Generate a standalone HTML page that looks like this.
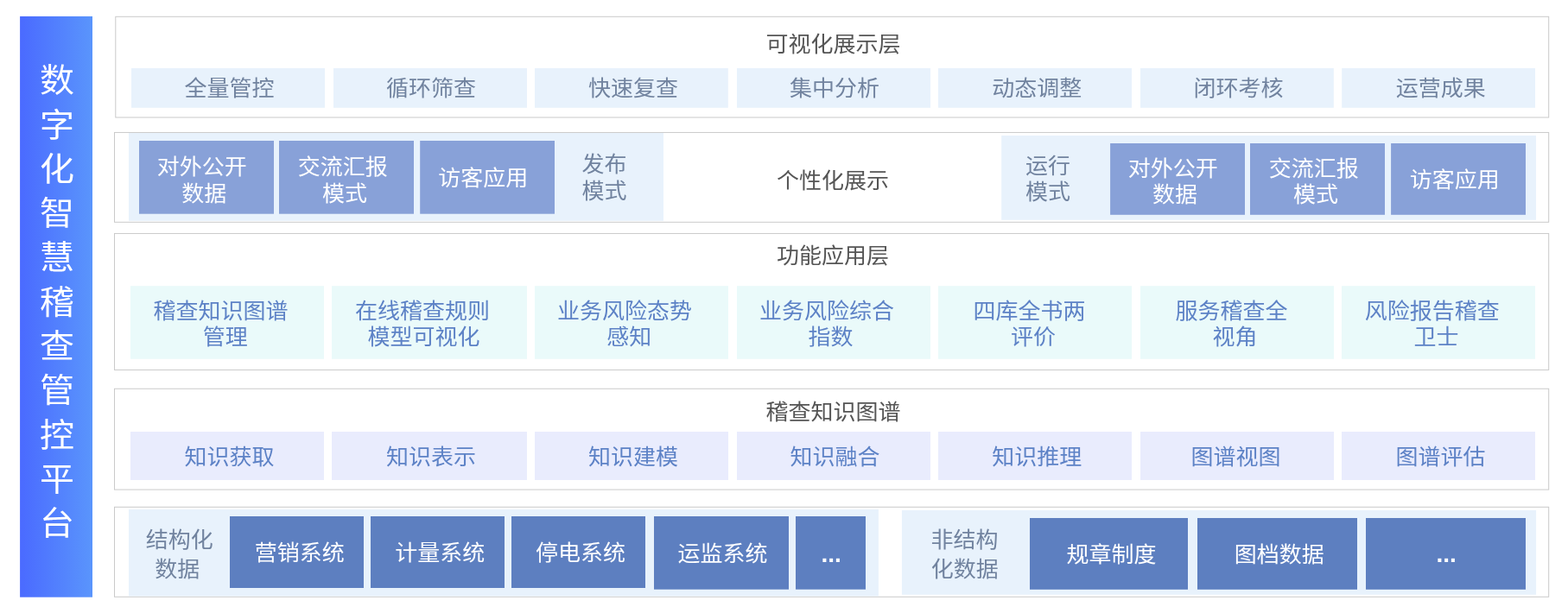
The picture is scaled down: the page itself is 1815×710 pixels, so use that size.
<!DOCTYPE html>
<html lang="zh-CN">
<head>
<meta charset="utf-8">
<title>数字化智慧稽查管控平台</title>
<style>
html,body{margin:0;padding:0;background:#fff;}
body{width:1815px;height:710px;position:relative;overflow:hidden;font-family:"Liberation Sans", "Noto Sans CJK SC", sans-serif;}
#bg{position:absolute;left:0;top:0;display:block;}
aside,section{display:block;margin:0;padding:0;}
#tx{position:absolute;left:0;top:0;width:1815px;height:710px;will-change:transform;}
.t{position:absolute;width:800px;height:60px;line-height:60px;text-align:center;white-space:nowrap;transform:scale(1,0.94);transform-origin:50% 50%;}
.s{transform:scale(1,0.95);}
.d{transform:none;}
</style>
</head>
<body>
<svg id="bg" aria-hidden="true" width="1815" height="710" viewBox="0 0 1815 710">
<defs><linearGradient id="sg" x1="0" y1="0" x2="1" y2="0"><stop offset="0" stop-color="#4a6aff"/><stop offset="1" stop-color="#5a95fc"/></linearGradient></defs>
<rect x="23.1" y="18.9" width="83.9" height="672.8" fill="url(#sg)"/>
<rect x="133.8" y="19.3" width="1658.9" height="116.7" fill="#fff" stroke="#cacaca" stroke-width="1"/>
<rect x="152" y="79" width="224" height="45.8" fill="#e8f2fc"/>
<rect x="386" y="79" width="224" height="45.8" fill="#e8f2fc"/>
<rect x="619" y="79" width="223.8" height="45.8" fill="#e8f2fc"/>
<rect x="853" y="79" width="224" height="45.8" fill="#e8f2fc"/>
<rect x="1086" y="79" width="224" height="45.8" fill="#e8f2fc"/>
<rect x="1320" y="79" width="223.8" height="45.8" fill="#e8f2fc"/>
<rect x="1553.2" y="79" width="223.8" height="45.8" fill="#e8f2fc"/>
<rect x="132.5" y="153.45" width="1660.2" height="103.85" fill="#fff" stroke="#cacaca" stroke-width="1"/>
<rect x="149" y="154" width="619" height="101.8" fill="#e8f2fc"/>
<rect x="1159.2" y="157" width="618.8" height="97.8" fill="#e8f2fc"/>
<rect x="161" y="163" width="156" height="84.7" fill="#88a1d8"/>
<rect x="323" y="163" width="156" height="84.7" fill="#88a1d8"/>
<rect x="486.2" y="163" width="155.8" height="84.7" fill="#88a1d8"/>
<rect x="1285.1" y="166" width="155.9" height="82.8" fill="#88a1d8"/>
<rect x="1447" y="166" width="156" height="82.8" fill="#88a1d8"/>
<rect x="1610.1" y="166" width="155.9" height="82.8" fill="#88a1d8"/>
<rect x="132.5" y="270.45" width="1660.2" height="158.0" fill="#fff" stroke="#cacaca" stroke-width="1"/>
<rect x="151" y="331.2" width="224" height="84.6" fill="#eafafa"/>
<rect x="384" y="331.2" width="226" height="84.6" fill="#eafafa"/>
<rect x="619" y="331.2" width="224" height="84.6" fill="#eafafa"/>
<rect x="853" y="331.2" width="224" height="84.6" fill="#eafafa"/>
<rect x="1086" y="331.2" width="224" height="84.6" fill="#eafafa"/>
<rect x="1320" y="331.2" width="224" height="84.6" fill="#eafafa"/>
<rect x="1553" y="331.2" width="224" height="84.6" fill="#eafafa"/>
<rect x="132.5" y="450.25" width="1660.2" height="116.85" fill="#fff" stroke="#cacaca" stroke-width="1"/>
<rect x="151" y="500" width="224" height="56" fill="#e9ecfd"/>
<rect x="384" y="500" width="226" height="56" fill="#e9ecfd"/>
<rect x="619" y="500" width="224" height="56" fill="#e9ecfd"/>
<rect x="853" y="500" width="224" height="56" fill="#e9ecfd"/>
<rect x="1086" y="500" width="224" height="56" fill="#e9ecfd"/>
<rect x="1320" y="500" width="224" height="56" fill="#e9ecfd"/>
<rect x="1553" y="500" width="224" height="56" fill="#e9ecfd"/>
<rect x="132.5" y="587.3" width="1660.2" height="104.0" fill="#fff" stroke="#cacaca" stroke-width="1"/>
<rect x="149" y="590" width="867.9" height="100.5" fill="#e8f2fc"/>
<rect x="1043.9" y="591" width="734.2" height="97.8" fill="#e8f2fc"/>
<rect x="266" y="598" width="155" height="83" fill="#5d7fc0"/>
<rect x="429" y="598" width="155" height="83" fill="#5d7fc0"/>
<rect x="592" y="598" width="155" height="83" fill="#5d7fc0"/>
<rect x="757" y="598" width="156" height="84.7" fill="#5d7fc0"/>
<rect x="921" y="598" width="81" height="84.7" fill="#5d7fc0"/>
<rect x="1192" y="600" width="183" height="82.8" fill="#5d7fc0"/>
<rect x="1386" y="600" width="185" height="82.8" fill="#5d7fc0"/>
<rect x="1581" y="600" width="185" height="82.8" fill="#5d7fc0"/>
</svg>
<div id="tx">
<aside aria-label="数字化智慧稽查管控平台">
<div class="t s" style="left:-334.0px;top:63.2px;color:#fff;font-size:40px;font-weight:400">数</div>
<div class="t s" style="left:-334.0px;top:114.5px;color:#fff;font-size:40px;font-weight:400">字</div>
<div class="t s" style="left:-334.0px;top:165.8px;color:#fff;font-size:40px;font-weight:400">化</div>
<div class="t s" style="left:-334.0px;top:217.1px;color:#fff;font-size:40px;font-weight:400">智</div>
<div class="t s" style="left:-334.0px;top:268.4px;color:#fff;font-size:40px;font-weight:400">慧</div>
<div class="t s" style="left:-334.0px;top:319.7px;color:#fff;font-size:40px;font-weight:400">稽</div>
<div class="t s" style="left:-334.0px;top:371.0px;color:#fff;font-size:40px;font-weight:400">查</div>
<div class="t s" style="left:-334.0px;top:422.3px;color:#fff;font-size:40px;font-weight:400">管</div>
<div class="t s" style="left:-334.0px;top:473.6px;color:#fff;font-size:40px;font-weight:400">控</div>
<div class="t s" style="left:-334.0px;top:524.9px;color:#fff;font-size:40px;font-weight:400">平</div>
<div class="t s" style="left:-334.0px;top:576.2px;color:#fff;font-size:40px;font-weight:400">台</div>
</aside>
<section aria-label="可视化展示层">
<div class="t" style="left:564.61px;top:21.8px;color:#555555;font-size:26px;font-weight:400">可视化展示层</div>
<div class="t" style="left:-134.55px;top:72.8px;color:#71839f;font-size:26px;font-weight:400">全量管控</div>
<div class="t" style="left:98.95px;top:72.8px;color:#71839f;font-size:26px;font-weight:400">循环筛查</div>
<div class="t" style="left:333.0px;top:72.8px;color:#71839f;font-size:26px;font-weight:400">快速复查</div>
<div class="t" style="left:566.1px;top:72.8px;color:#71839f;font-size:26px;font-weight:400">集中分析</div>
<div class="t" style="left:800.15px;top:72.8px;color:#71839f;font-size:26px;font-weight:400">动态调整</div>
<div class="t" style="left:1033.46px;top:72.8px;color:#71839f;font-size:26px;font-weight:400">闭环考核</div>
<div class="t" style="left:1267.65px;top:72.8px;color:#71839f;font-size:26px;font-weight:400">运营成果</div>
</section>
<section aria-label="个性化展示">
<div class="t" style="left:-166.35px;top:163.67px;color:#ffffff;font-size:26px;font-weight:400">对外公开</div>
<div class="t" style="left:-163.65px;top:194.67px;color:#ffffff;font-size:26px;font-weight:400">数据</div>
<div class="t" style="left:-3.3px;top:163.67px;color:#ffffff;font-size:26px;font-weight:400">交流汇报</div>
<div class="t" style="left:-1.1px;top:194.67px;color:#ffffff;font-size:26px;font-weight:400">模式</div>
<div class="t" style="left:159.35px;top:177.12px;color:#ffffff;font-size:26px;font-weight:400">访客应用</div>
<div class="t" style="left:299.45px;top:160.5px;color:#71839f;font-size:26px;font-weight:400">发布</div>
<div class="t" style="left:299.6px;top:191.76px;color:#71839f;font-size:26px;font-weight:400">模式</div>
<div class="t" style="left:564.0px;top:179.94px;color:#555555;font-size:26px;font-weight:400">个性化展示</div>
<div class="t" style="left:813.13px;top:162.58px;color:#71839f;font-size:26px;font-weight:400">运行</div>
<div class="t" style="left:813.13px;top:192.58px;color:#71839f;font-size:26px;font-weight:400">模式</div>
<div class="t" style="left:957.7px;top:166.12px;color:#ffffff;font-size:26px;font-weight:400">对外公开</div>
<div class="t" style="left:960.05px;top:195.6px;color:#ffffff;font-size:26px;font-weight:400">数据</div>
<div class="t" style="left:1120.7px;top:166.12px;color:#ffffff;font-size:26px;font-weight:400">交流汇报</div>
<div class="t" style="left:1123.05px;top:195.6px;color:#ffffff;font-size:26px;font-weight:400">模式</div>
<div class="t" style="left:1283.81px;top:178.58px;color:#ffffff;font-size:26px;font-weight:400">访客应用</div>
</section>
<section aria-label="功能应用层">
<div class="t" style="left:563.9px;top:267.21px;color:#555555;font-size:26px;font-weight:400">功能应用层</div>
<div class="t" style="left:-144.4px;top:330.76px;color:#5d82c6;font-size:26px;font-weight:400">稽查知识图谱</div>
<div class="t" style="left:-139.31px;top:360.65px;color:#5d82c6;font-size:26px;font-weight:400">管理</div>
<div class="t" style="left:89.0px;top:330.76px;color:#5d82c6;font-size:26px;font-weight:400">在线稽查规则</div>
<div class="t" style="left:90.5px;top:360.65px;color:#5d82c6;font-size:26px;font-weight:400">模型可视化</div>
<div class="t" style="left:323.0px;top:330.76px;color:#5d82c6;font-size:26px;font-weight:400">业务风险态势</div>
<div class="t" style="left:328.39px;top:360.65px;color:#5d82c6;font-size:26px;font-weight:400">感知</div>
<div class="t" style="left:557.1px;top:330.76px;color:#5d82c6;font-size:26px;font-weight:400">业务风险综合</div>
<div class="t" style="left:561.5px;top:360.65px;color:#5d82c6;font-size:26px;font-weight:400">指数</div>
<div class="t" style="left:791.6px;top:330.76px;color:#5d82c6;font-size:26px;font-weight:400">四库全书两</div>
<div class="t" style="left:795.9px;top:360.65px;color:#5d82c6;font-size:26px;font-weight:400">评价</div>
<div class="t" style="left:1025.45px;top:330.76px;color:#5d82c6;font-size:26px;font-weight:400">服务稽查全</div>
<div class="t" style="left:1029.57px;top:360.65px;color:#5d82c6;font-size:26px;font-weight:400">视角</div>
<div class="t" style="left:1257.75px;top:330.76px;color:#5d82c6;font-size:26px;font-weight:400">风险报告稽查</div>
<div class="t" style="left:1262.63px;top:360.65px;color:#5d82c6;font-size:26px;font-weight:400">卫士</div>
</section>
<section aria-label="稽查知识图谱">
<div class="t" style="left:564.45px;top:447.67px;color:#555555;font-size:26px;font-weight:400">稽查知识图谱</div>
<div class="t" style="left:-134.55px;top:499.85px;color:#5d82c6;font-size:26px;font-weight:400">知识获取</div>
<div class="t" style="left:99.13px;top:499.85px;color:#5d82c6;font-size:26px;font-weight:400">知识表示</div>
<div class="t" style="left:333.04px;top:499.85px;color:#5d82c6;font-size:26px;font-weight:400">知识建模</div>
<div class="t" style="left:566.5px;top:499.85px;color:#5d82c6;font-size:26px;font-weight:400">知识融合</div>
<div class="t" style="left:800.2px;top:499.85px;color:#5d82c6;font-size:26px;font-weight:400">知识推理</div>
<div class="t" style="left:1030.5px;top:499.85px;color:#5d82c6;font-size:26px;font-weight:400">图谱视图</div>
<div class="t" style="left:1267.42px;top:499.85px;color:#5d82c6;font-size:26px;font-weight:400">图谱评估</div>
</section>
<section aria-label="数据层">
<div class="t" style="left:-192.3px;top:596.12px;color:#71839f;font-size:26px;font-weight:400">结构化</div>
<div class="t" style="left:-194.65px;top:629.75px;color:#71839f;font-size:26px;font-weight:400">数据</div>
<div class="t" style="left:-53.25px;top:610.8px;color:#ffffff;font-size:26px;font-weight:400">营销系统</div>
<div class="t" style="left:109.15px;top:610.8px;color:#ffffff;font-size:26px;font-weight:400">计量系统</div>
<div class="t" style="left:272.1px;top:610.8px;color:#ffffff;font-size:26px;font-weight:400">停电系统</div>
<div class="t" style="left:436.6px;top:611.7px;color:#ffffff;font-size:26px;font-weight:400">运监系统</div>
<div class="t" style="left:716.45px;top:596.12px;color:#71839f;font-size:26px;font-weight:400">非结构</div>
<div class="t" style="left:716.8px;top:629.55px;color:#71839f;font-size:26px;font-weight:400">化数据</div>
<div class="t" style="left:886.45px;top:612.58px;color:#ffffff;font-size:26px;font-weight:400">规章制度</div>
<div class="t" style="left:1080.83px;top:612.58px;color:#ffffff;font-size:26px;font-weight:400">图档数据</div>
<div class="t d" style="left:562.1px;top:612.1px;color:#ffffff;font-size:28px;font-weight:700">...</div>
<div class="t d" style="left:1274.2px;top:612.1px;color:#ffffff;font-size:28px;font-weight:700">...</div>
</section>
</div>
</body>
</html>
